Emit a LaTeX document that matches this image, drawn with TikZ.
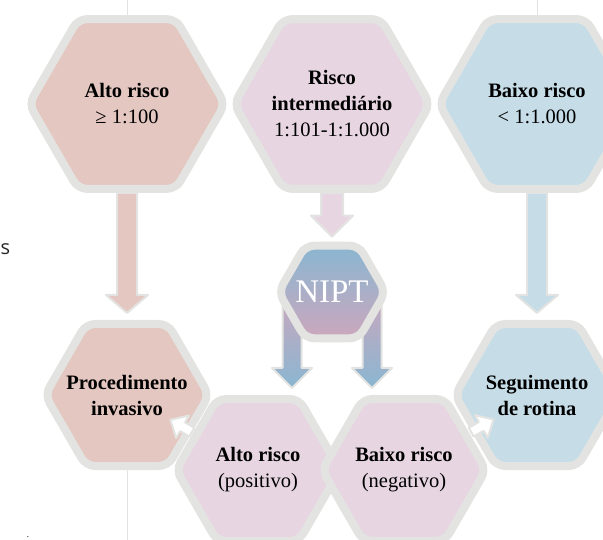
\documentclass[tikz,border=0pt]{standalone}
\usepackage{fontspec}
\setmainfont{Liberation Serif}
\newfontfamily\pagefont{Open Sans}
\usetikzlibrary{shapes.geometric,calc,backgrounds}

\definecolor{bord}{RGB}{227,228,225}
\definecolor{hifill}{RGB}{228,199,192}
\definecolor{midfill}{RGB}{231,214,226}
\definecolor{lofill}{RGB}{198,221,232}
\definecolor{niptblue}{RGB}{138,182,209}
\definecolor{niptrose}{RGB}{203,167,189}
\definecolor{guidegray}{RGB}{226,226,226}

\tikzset{fat gap/.store in=\fgap, fat head/.store in=\fhead,
  fat shaft/.store in=\fshaft, fat wing/.store in=\fwing,
  fat gap=7pt, fat head=18pt, fat shaft=10pt, fat wing=21pt}
\newcommand{\fatarrow}[4][]{\begin{scope}[#1]
  \coordinate (ft) at ($(#4)!\fgap!(#3)$);
  \coordinate (fm) at ($(ft)!\fhead!(#3)$);
  \path[fat,#2] ($(#3)!\fshaft!90:(ft)$) -- ($(fm)!\fshaft!90:(ft)$)
    -- ($(fm)!\fwing!90:(ft)$) -- (ft) -- ($(fm)!\fwing!-90:(ft)$)
    -- ($(fm)!\fshaft!-90:(ft)$) -- ($(#3)!\fshaft!-90:(ft)$) -- cycle;
\end{scope}}

\begin{document}
\begin{tikzpicture}[x=1pt, y=-1pt,
hexa/.style={regular polygon, regular polygon sides=6, draw=bord,
  line width=8pt, rounded corners=9pt, inner sep=-12pt, align=center,
  font=\fontsize{20.5}{26}\selectfont},
bighex/.style={hexa, minimum size=196pt},
smallhex/.style={hexa, minimum size=164pt},
fat/.style={draw=bord, line width=2pt, line join=round},
guideline/.style={draw=guidegray, line width=1pt}]
\useasboundingbox (0,0) rectangle (603,540);

\node (hi) at (127,104) [bighex, fill=hifill] {\textbf{Alto risco}\\≥ 1:100};
\node (mid) at (332,104) [bighex, fill=midfill] {\textbf{Risco}\\\textbf{intermediário}\\1:101-1:1.000};
\node (lo) at (537,104) [bighex, fill=lofill] {\textbf{Baixo risco}\\< 1:1.000};

\node (proc) at (127,395) [smallhex, fill=hifill] {\textbf{Procedimento}\\\textbf{invasivo}};
\node (seg) at (537,395) [smallhex, fill=lofill] {\textbf{Seguimento}\\\textbf{de rotina}};

\node (nipt) at (332,292) [hexa, minimum size=107pt, top color=niptblue,
  bottom color=niptrose, text=white, font=\fontsize{33}{36}\selectfont] {NIPT};

\node (pos) at (258,470) [smallhex, fill=midfill] {\textbf{Alto risco}\\(positivo)};
\node (neg) at (404,470) [smallhex, fill=midfill] {\textbf{Baixo risco}\\(negativo)};

\node (s) at (0.5,255) [anchor=base west, inner sep=0pt, text=black!85,
  font=\pagefont\fontsize{20}{20}\selectfont] {s};
\node (dot) at (28,537) [anchor=base, inner sep=0pt, font=\fontsize{9}{9}\selectfont] {.};

\begin{scope}[on background layer]
\draw[guideline] (hi.north) -- (hi.north |- 0,0);
\draw[guideline] (lo.north) -- (lo.north |- 0,0);
\draw[guideline] (proc.south) -- (proc.south |- 0,540);
\coordinate (nl) at ($(nipt.center)+(-40,0)$);
\coordinate (nr) at ($(nipt.center)+(40,0)$);
\fatarrow[fat shaft=9.5pt, fat wing=20pt, fat head=20pt]{top color=niptrose, bottom color=niptblue}{nl}{nl |- pos.north}
\fatarrow[fat shaft=9.5pt, fat wing=20pt, fat head=20pt]{top color=niptrose, bottom color=niptblue}{nr}{nr |- neg.north}
\end{scope}

\fatarrow{fill=hifill}{hi.south}{proc.north}
\fatarrow[fat head=21pt, fat gap=5pt, fat shaft=11pt]{fill=midfill}{mid.south}{nipt.north}
\fatarrow{fill=lofill}{lo.south}{seg.north}

\coordinate (w1) at ($(proc)!0.495!(pos)$);
\coordinate (w2) at ($(seg)!0.495!(neg)$);
\fatarrow[fat gap=50pt, fat head=14pt, fat shaft=5pt, fat wing=13pt]{fill=white}{w1}{proc}
\fatarrow[fat gap=50pt, fat head=14pt, fat shaft=5pt, fat wing=13pt]{fill=white}{w2}{seg}
\end{tikzpicture}
\end{document}
